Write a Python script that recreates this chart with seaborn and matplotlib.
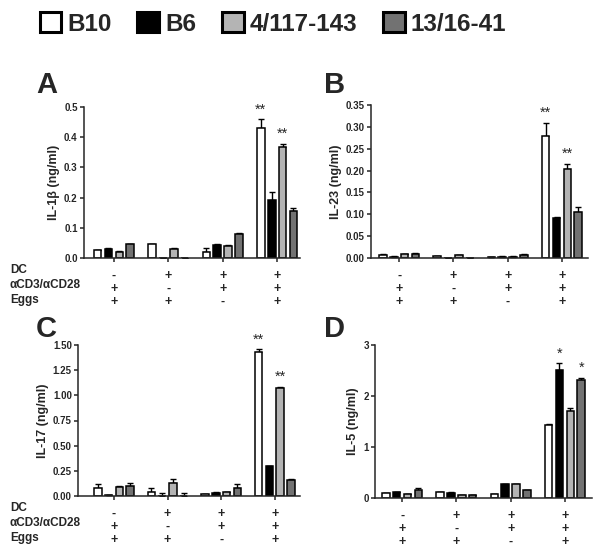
import matplotlib
matplotlib.use("Agg")
import matplotlib.pyplot as plt
from matplotlib.patches import Patch
import pandas as pd
import seaborn as sns

# --- data ---
strains = ["B10", "B6", "4/117-143", "13/16-41"]
conditions = ["c1", "c2", "c3", "c4"]
row_names = ["DC", "αCD3/αCD28", "Eggs"]
dc_signs = ["-", "+", "+", "+"]
cd3_signs = ["+", "-", "+", "+"]
egg_signs = ["+", "+", "-", "+"]

il1b_vals = {
    "B10": [0.025, 0.046, 0.020, 0.429],
    "B6": [0.030, 0.0, 0.043, 0.192],
    "4/117-143": [0.020, 0.030, 0.041, 0.366],
    "13/16-41": [0.046, 0.0, 0.079, 0.155],
}
il1b_err = {
    "B10": [0.003, 0.002, 0.013, 0.030],
    "B6": [0.002, 0.0, 0.002, 0.028],
    "4/117-143": [0.002, 0.002, 0.002, 0.012],
    "13/16-41": [0.002, 0.0, 0.004, 0.012],
}
il23_vals = {
    "B10": [0.008, 0.004, 0.002, 0.279],
    "B6": [0.003, 0.0, 0.003, 0.092],
    "4/117-143": [0.009, 0.006, 0.003, 0.203],
    "13/16-41": [0.010, 0.0, 0.008, 0.106],
}
il23_err = {
    "B10": [0.0005, 0.0005, 0.0005, 0.030],
    "B6": [0.0005, 0.0, 0.0005, 0.001],
    "4/117-143": [0.0005, 0.0005, 0.0005, 0.012],
    "13/16-41": [0.0005, 0.0, 0.0005, 0.011],
}
il17_vals = {
    "B10": [0.076, 0.043, 0.020, 1.434],
    "B6": [0.010, 0.0, 0.033, 0.298],
    "4/117-143": [0.093, 0.130, 0.040, 1.070],
    "13/16-41": [0.099, 0.0, 0.083, 0.159],
}
il17_err = {
    "B10": [0.040, 0.033, 0.003, 0.023],
    "B6": [0.002, 0.026, 0.002, 0.002],
    "4/117-143": [0.007, 0.036, 0.004, 0.010],
    "13/16-41": [0.027, 0.026, 0.033, 0.013],
}
il5_vals = {
    "B10": [0.098, 0.110, 0.078, 1.435],
    "B6": [0.117, 0.104, 0.274, 2.510],
    "4/117-143": [0.078, 0.059, 0.274, 1.710],
    "13/16-41": [0.150, 0.059, 0.150, 2.310],
}
il5_err = {
    "B10": [0.005, 0.005, 0.005, 0.015],
    "B6": [0.005, 0.005, 0.005, 0.130],
    "4/117-143": [0.005, 0.005, 0.005, 0.050],
    "13/16-41": [0.050, 0.005, 0.005, 0.040],
}

# significance marks: (condition index, strain, label)
il1b_sig = [(3, "B10", "**"), (3, "4/117-143", "**")]
il23_sig = [(3, "B10", "**"), (3, "4/117-143", "**")]
il17_sig = [(3, "B10", "**"), (3, "4/117-143", "**")]
il5_sig = [(3, "B6", "*"), (3, "13/16-41", "*")]

palette = {"B10": "#ffffff", "B6": "#000000", "4/117-143": "#b4b4b4", "13/16-41": "#727272"}

W, H = 602, 555
sns.set_theme(style="ticks")
plt.rcParams["font.family"] = ["Liberation Sans", "DejaVu Sans"]
plt.rcParams["font.weight"] = "bold"

fig = plt.figure(figsize=(W / 100, H / 100), dpi=100)


def px_axes(left, top, right, bottom):
    return fig.add_axes([left / W, 1 - bottom / H, (right - left) / W, (bottom - top) / H])


def panel(ax, vals, errs, sigs, ylabel, ymax, yticks, fmt, xlim):
    df = pd.DataFrame(
        [(c, s, vals[s][i]) for s in strains for i, c in enumerate(conditions)],
        columns=["cond", "strain", "val"],
    )
    sns.barplot(data=df, x="cond", y="val", hue="strain", order=conditions, hue_order=strains,
                palette=palette, edgecolor="black", linewidth=1.1, width=0.8, gap=0.3,
                errorbar=None, legend=False, ax=ax, zorder=2)
    centers = {}
    for s, cont in zip(strains, ax.containers):
        xs = [b.get_x() + b.get_width() / 2 for b in cont]
        centers[s] = xs
        ax.errorbar(xs, vals[s], yerr=[[0] * 4, errs[s]], fmt="none", ecolor="black",
                    elinewidth=1.0, capsize=2, capthick=1.0, zorder=1)
    for i, s, lab in sigs:
        ax.text(centers[s][i], vals[s][i] + errs[s][i] + ymax * 0.02, lab,
                ha="center", va="bottom", fontsize=10.5, fontweight="normal")
    ax.set_ylim(0, ymax)
    ax.set_xlim(*xlim)
    ax.set_yticks(yticks)
    ax.set_yticklabels([fmt.format(t) for t in yticks], fontsize=7, fontweight="bold")
    ax.set_xticks(range(4))
    ax.set_xticklabels([f"{a}\n{b}\n{c}" for a, b, c in zip(dc_signs, cd3_signs, egg_signs)],
                       fontsize=9, fontweight="bold", linespacing=1.1)
    ax.set_xlabel("")
    ax.set_ylabel(ylabel, fontsize=9, fontweight="bold", labelpad=3)
    for side in ["top", "right"]:
        ax.spines[side].set_visible(False)
    for side in ["left", "bottom"]:
        ax.spines[side].set_linewidth(1.1)
    ax.tick_params(axis="both", width=1.1, length=3, pad=1.5)
    ax.tick_params(axis="x", length=3, pad=5.5)


axA = px_axes(84, 107, 300, 258)
panel(axA, il1b_vals, il1b_err, il1b_sig, "IL-1β (ng/ml)", 0.5,
      [0.0, 0.1, 0.2, 0.3, 0.4, 0.5], "{:.1f}", (-0.55, 3.42))
axB = px_axes(371, 105, 588, 258)
panel(axB, il23_vals, il23_err, il23_sig, "IL-23 (ng/ml)", 0.35,
      [0.0, 0.05, 0.10, 0.15, 0.20, 0.25, 0.30, 0.35], "{:.2f}", (-0.52, 3.48))
axC = px_axes(78, 345, 300, 496)
panel(axC, il17_vals, il17_err, il17_sig, "IL-17 (ng/ml)", 1.5,
      [0.0, 0.25, 0.5, 0.75, 1.0, 1.25, 1.5], "{:.2f}", (-0.67, 3.47))
axD = px_axes(375, 345, 592, 498)
panel(axD, il5_vals, il5_err, il5_sig, "IL-5 (ng/ml)", 3,
      [0, 1, 2, 3], "{:.0f}", (-0.5, 3.5))

# condition row labels on the left panels
for top in [264, 502]:
    fig.text(10 / W, 1 - top / H, "\n".join(row_names), ha="left", va="top",
             fontsize=8.5, fontweight="bold", linespacing=1.35)

# panel letters
for lab, x, y in [("A", 36, 93), ("B", 324, 93), ("C", 36, 337), ("D", 324, 337)]:
    fig.text(x / W, 1 - y / H, lab, fontsize=21, fontweight="bold", ha="left", va="baseline")

handles = [Patch(facecolor=palette[s], edgecolor="black", linewidth=2.2, label=s) for s in strains]
fig.legend(handles=handles, loc="center", bbox_to_anchor=(273 / W, 1 - 24 / H), ncol=4,
           frameon=False, prop={"size": 17.5, "weight": "bold"}, handlelength=0.9,
           handleheight=0.9, handletextpad=0.25, columnspacing=1.05, borderpad=0.2)

fig.savefig("out.png", dpi=100)
